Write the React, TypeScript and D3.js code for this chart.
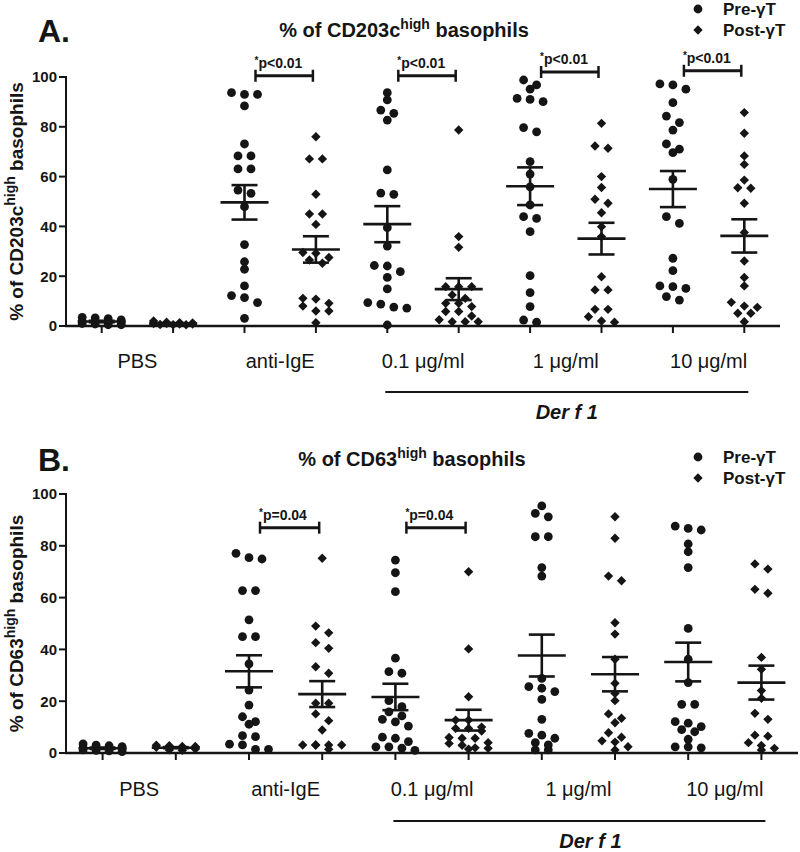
import React from "react";
import * as d3 from "d3";

// treatment groups along the x axis, each with a pre and post column
const groups = ["PBS", "anti-IgE", "0.1 μg/ml", "1 μg/ml", "10 μg/ml"];
const phases = ["pre", "post"];
const legendLabels = ["Pre-γT", "Post-γT"];
const yTicks = [0, 20, 40, 60, 80, 100];
const derGroups = ["0.1 μg/ml", "1 μg/ml", "10 μg/ml"];

// A. % of CD203c-high basophils
const cd203cPre = [
  [3.5, 3.3, 3.0, 2.5, 2.0, 1.8, 1.5, 1.2, 1.0, 0.8, 0.5, 0.5],
  [93.0, 93.7, 93.0, 88.4, 73.1, 68.3, 68.3, 63.1, 63.1, 53.3, 54.6, 47.9, 32.7, 25.8, 22.8, 16.1, 11.4, 12.2, 9.4, 3.1],
  [93.7, 90.8, 86.7, 85.4, 82.7, 62.7, 52.9, 53.4, 39.5, 32.1, 24.1, 24.3, 21.8, 19.5, 14.9, 9.4, 8.8, 7.6, 7.2, 0.4],
  [98.8, 96.8, 95.1, 91.4, 90.1, 91.0, 79.7, 78.0, 66.0, 61.0, 55.9, 48.6, 43.9, 43.2, 37.9, 20.2, 13.4, 7.8, 2.4, 1.5],
  [97.2, 96.8, 95.1, 89.7, 84.3, 81.7, 78.7, 73.1, 71.0, 69.6, 58.9, 43.9, 41.2, 27.2, 22.2, 16.1, 15.8, 15.1, 11.8, 10.4],
];
const cd203cPost = [
  [2.0, 1.5, 1.3, 1.2, 1.0, 1.0, 0.8, 0.8, 0.6, 0.5, 0.5],
  [76.0, 67.1, 67.1, 52.9, 45.0, 45.0, 40.8, 29.2, 29.5, 27.5, 25.2, 26.5, 11.1, 10.8, 9.1, 8.0, 6.0, 6.0, 1.3],
  [78.7, 35.9, 31.6, 15.8, 15.8, 15.8, 12.5, 11.1, 9.1, 9.1, 7.8, 5.8, 5.8, 4.0, 2.5, 1.7, 1.7, 1.7],
  [81.4, 72.3, 71.4, 60.0, 55.6, 50.9, 49.3, 45.5, 39.9, 35.9, 19.8, 14.5, 14.5, 6.7, 6.7, 3.7, 2.0, 1.5],
  [85.7, 77.4, 68.3, 64.9, 58.6, 55.3, 55.5, 49.3, 37.6, 26.1, 19.5, 16.1, 9.5, 8.0, 7.5, 5.1, 5.1, 1.7],
];
const cd203cSigGroups = ["anti-IgE", "0.1 μg/ml", "1 μg/ml", "10 μg/ml"];
const cd203cSigLevels = [100.5, 100.5, 102, 102.5];
const cd203cSigText = "p<0.01";

// B. % of CD63-high basophils
const cd63Pre = [
  [3.5, 3.0, 2.8, 2.5, 2.0, 1.8, 1.5, 1.2, 1.0, 0.8, 0.5, 1.5],
  [77.1, 74.9, 75.4, 62.7, 62.7, 51.4, 44.9, 44.9, 34.4, 24.3, 18.5, 14.0, 12.1, 11.1, 6.7, 6.3, 3.1, 3.4, 1.4, 1.4],
  [74.5, 69.6, 62.3, 36.6, 31.4, 30.8, 20.2, 17.9, 15.9, 14.3, 13.0, 12.0, 10.4, 6.1, 5.7, 4.4, 2.4, 2.4, 1.9, 1.0],
  [95.4, 92.5, 91.2, 83.5, 83.5, 71.6, 68.3, 28.8, 25.6, 23.7, 25.0, 20.7, 13.0, 6.9, 5.7, 7.6, 3.1, 4.0, 1.2, 1.2],
  [87.6, 86.1, 86.7, 80.7, 77.7, 71.6, 48.1, 36.2, 27.2, 18.8, 18.8, 12.1, 11.5, 10.2, 9.0, 8.2, 5.3, 2.4, 2.4, 2.0],
];
const cd63Post = [
  [3.0, 2.8, 2.5, 2.2, 2.0, 1.8, 1.5, 1.2, 1.0, 2.5],
  [75.2, 49.0, 46.4, 42.6, 40.4, 33.3, 30.8, 19.2, 19.2, 15.1, 12.5, 8.9, 3.1, 3.1, 3.1, 3.1, 3.1, 1.4],
  [70.0, 40.2, 21.7, 12.7, 12.7, 10.0, 9.5, 9.5, 8.5, 6.0, 5.7, 5.7, 4.0, 3.7, 3.0, 2.0, 1.8, 1.5],
  [91.2, 82.9, 68.3, 66.5, 50.3, 45.9, 36.2, 26.9, 23.0, 20.2, 15.1, 13.4, 11.7, 7.8, 6.1, 4.2, 2.4, 4.7, 1.2],
  [73.0, 71.0, 63.2, 61.7, 36.9, 32.3, 24.1, 21.1, 15.3, 13.0, 6.9, 6.5, 4.0, 2.9, 1.8, 1.2],
];
const cd63SigGroups = ["anti-IgE", "0.1 μg/ml"];
const cd63SigLevels = [87, 87];
const cd63SigText = "p=0.04";

const INK = "#151515";
const FONT = "Liberation Sans, Arial, Helvetica, sans-serif";

const diamond = d3.symbol(d3.symbolDiamond2, 56)() as string;

// GraphPad-like scatter: values with close y share a row, centred on the column
function swarm(vals: number[], y: (v: number) => number, cx: number) {
  const sorted = [...vals].sort((a, b) => b - a);
  const rows: number[][] = [];
  let cur: number[] = [];
  let rowY = 0;
  sorted.forEach(v => {
    const py = y(v);
    if (cur.length && (py - rowY > 7 || cur.length >= 4)) {
      rows.push(cur);
      cur = [];
    }
    if (!cur.length) rowY = py;
    cur.push(v);
  });
  if (cur.length) rows.push(cur);
  return rows.flatMap(r => r.map((v, i) => ({ x: cx + (i - (r.length - 1) / 2) * 13, y: y(v) })));
}

type PanelProps = {
  letter: string;
  marker: string;
  pre: number[][];
  post: number[][];
  sigGroups: string[];
  sigLevels: number[];
  sigText: string;
  yTop: number;
  yBottom: number;
  xRight: number;
  titleX: number;
  titleY: number;
  catY: number;
  derY: number;
  derShift: number;
  legendY: number;
};

function Panel(p: PanelProps) {
  const keys = groups.flatMap(g => phases.map(ph => g + "|" + ph));
  const x = d3.scaleBand().domain(keys).range([66, p.xRight]).padding(0);
  const cx = (k: string) => (x(k) as number) + x.bandwidth() / 2;
  const y = d3.scaleLinear().domain([0, 100]).range([p.yBottom, p.yTop]);

  const series = groups.flatMap((g, gi) => [
    { key: g + "|pre", vals: p.pre[gi], shape: "circle" },
    { key: g + "|post", vals: p.post[gi], shape: "diamond" },
  ]);

  const derX1 = cx(derGroups[0] + "|pre") - 2;
  const derX2 = cx(derGroups[derGroups.length - 1] + "|post") + 4;

  return (
    <g fontFamily={FONT} fill={INK}>
      <text x={38} y={p.titleY + 5} fontSize={32} fontWeight="bold">{p.letter}</text>
      <text x={p.titleX} y={p.titleY} fontSize={20} fontWeight="bold" textAnchor="middle">
        % of {p.marker}<tspan fontSize={14} dy={-8}>high</tspan><tspan dy={8}> basophils</tspan>
      </text>

      {/* legend */}
      <circle cx={698} cy={p.legendY} r={4.4} />
      <path d={diamond} transform={`translate(698,${p.legendY + 21})`} />
      <text x={723} y={p.legendY + 6} fontSize={17} fontWeight="bold">{legendLabels[0]}</text>
      <text x={723} y={p.legendY + 27} fontSize={17} fontWeight="bold">{legendLabels[1]}</text>

      {/* y axis */}
      <text transform={`translate(23,${(p.yTop + p.yBottom) / 2}) rotate(-90)`} fontSize={19} fontWeight="bold" textAnchor="middle">
        % of {p.marker}<tspan fontSize={14} dy={-8}>high</tspan><tspan dy={8}> basophils</tspan>
      </text>
      <line x1={66} x2={66} y1={y(100) - 1} y2={y(0)} stroke={INK} strokeWidth={2} />
      {yTicks.map(t => (
        <g key={t}>
          <line x1={59} x2={66} y1={y(t)} y2={y(t)} stroke={INK} strokeWidth={2} />
          <text x={57} y={y(t)} dy="0.36em" fontSize={15} fontWeight="bold" textAnchor="end">{t}</text>
        </g>
      ))}

      {/* x axis */}
      <line x1={65} x2={p.xRight} y1={y(0)} y2={y(0)} stroke={INK} strokeWidth={2.5} />
      {keys.map(k => (
        <line key={k} x1={cx(k)} x2={cx(k)} y1={y(0)} y2={y(0) + 7} stroke={INK} strokeWidth={2} />
      ))}
      {groups.map(g => (
        <text key={g} x={(cx(g + "|pre") + cx(g + "|post")) / 2} y={p.catY} fontSize={20} textAnchor="middle">{g}</text>
      ))}
      <line x1={derX1} x2={derX2} y1={p.derY} y2={p.derY} stroke={INK} strokeWidth={2} />
      <text x={(derX1 + derX2) / 2 + p.derShift} y={p.derY + 27} fontSize={20} fontWeight="bold" fontStyle="italic" textAnchor="middle">Der f 1</text>

      {/* points */}
      {series.map(s => (
        <g key={s.key}>
          {swarm(s.vals, y, cx(s.key)).map((pt, i) =>
            s.shape === "circle"
              ? <circle key={i} cx={pt.x} cy={pt.y} r={4.4} />
              : <path key={i} d={diamond} transform={`translate(${pt.x},${pt.y})`} />
          )}
        </g>
      ))}

      {/* mean ± SEM */}
      {series.map(s => {
        const m = d3.mean(s.vals) as number;
        const sem = (d3.deviation(s.vals) as number) / Math.sqrt(s.vals.length);
        const c = cx(s.key);
        return (
          <g key={s.key} stroke={INK} strokeWidth={2.6}>
            <line x1={c - 24} x2={c + 24} y1={y(m)} y2={y(m)} />
            <line x1={c} x2={c} y1={y(m + sem)} y2={y(m - sem)} />
            <line x1={c - 13} x2={c + 13} y1={y(m + sem)} y2={y(m + sem)} />
            <line x1={c - 13} x2={c + 13} y1={y(m - sem)} y2={y(m - sem)} />
          </g>
        );
      })}

      {/* significance brackets */}
      {p.sigGroups.map((g, i) => {
        const x1 = cx(g + "|pre") + 11;
        const x2 = cx(g + "|post") - 3;
        const yy = y(p.sigLevels[i]);
        return (
          <g key={g}>
            <g stroke={INK}>
              <line x1={x1} x2={x2} y1={yy} y2={yy} strokeWidth={3} />
              <line x1={x1} x2={x1} y1={yy - 6} y2={yy + 6} strokeWidth={2.5} />
              <line x1={x2} x2={x2} y1={yy - 6} y2={yy + 6} strokeWidth={2.5} />
            </g>
            <text x={x1 - 1} y={yy - 8} fontSize={14} fontWeight="bold">
              <tspan fontSize={10} dy={-4}>*</tspan><tspan dy={4}>{p.sigText}</tspan>
            </text>
          </g>
        );
      })}
    </g>
  );
}

export default function App() {
  return (
    <svg width={800} height={852} style={{ position: "absolute", left: 0, top: 0, background: "#fff" }}>
      <rect width={800} height={852} fill="#fff" />
      <Panel letter="A." marker="CD203c" pre={cd203cPre} post={cd203cPost}
        sigGroups={cd203cSigGroups} sigLevels={cd203cSigLevels} sigText={cd203cSigText}
        yTop={77} yBottom={326} xRight={780} titleX={404} titleY={37}
        catY={368} derY={392} derShift={0} legendY={9} />
      <Panel letter="B." marker="CD63" pre={cd63Pre} post={cd63Post}
        sigGroups={cd63SigGroups} sigLevels={cd63SigLevels} sigText={cd63SigText}
        yTop={494} yBottom={753} xRight={798} titleX={412} titleY={466}
        catY={796} derY={821} derShift={11} legendY={457} />
    </svg>
  );
}
